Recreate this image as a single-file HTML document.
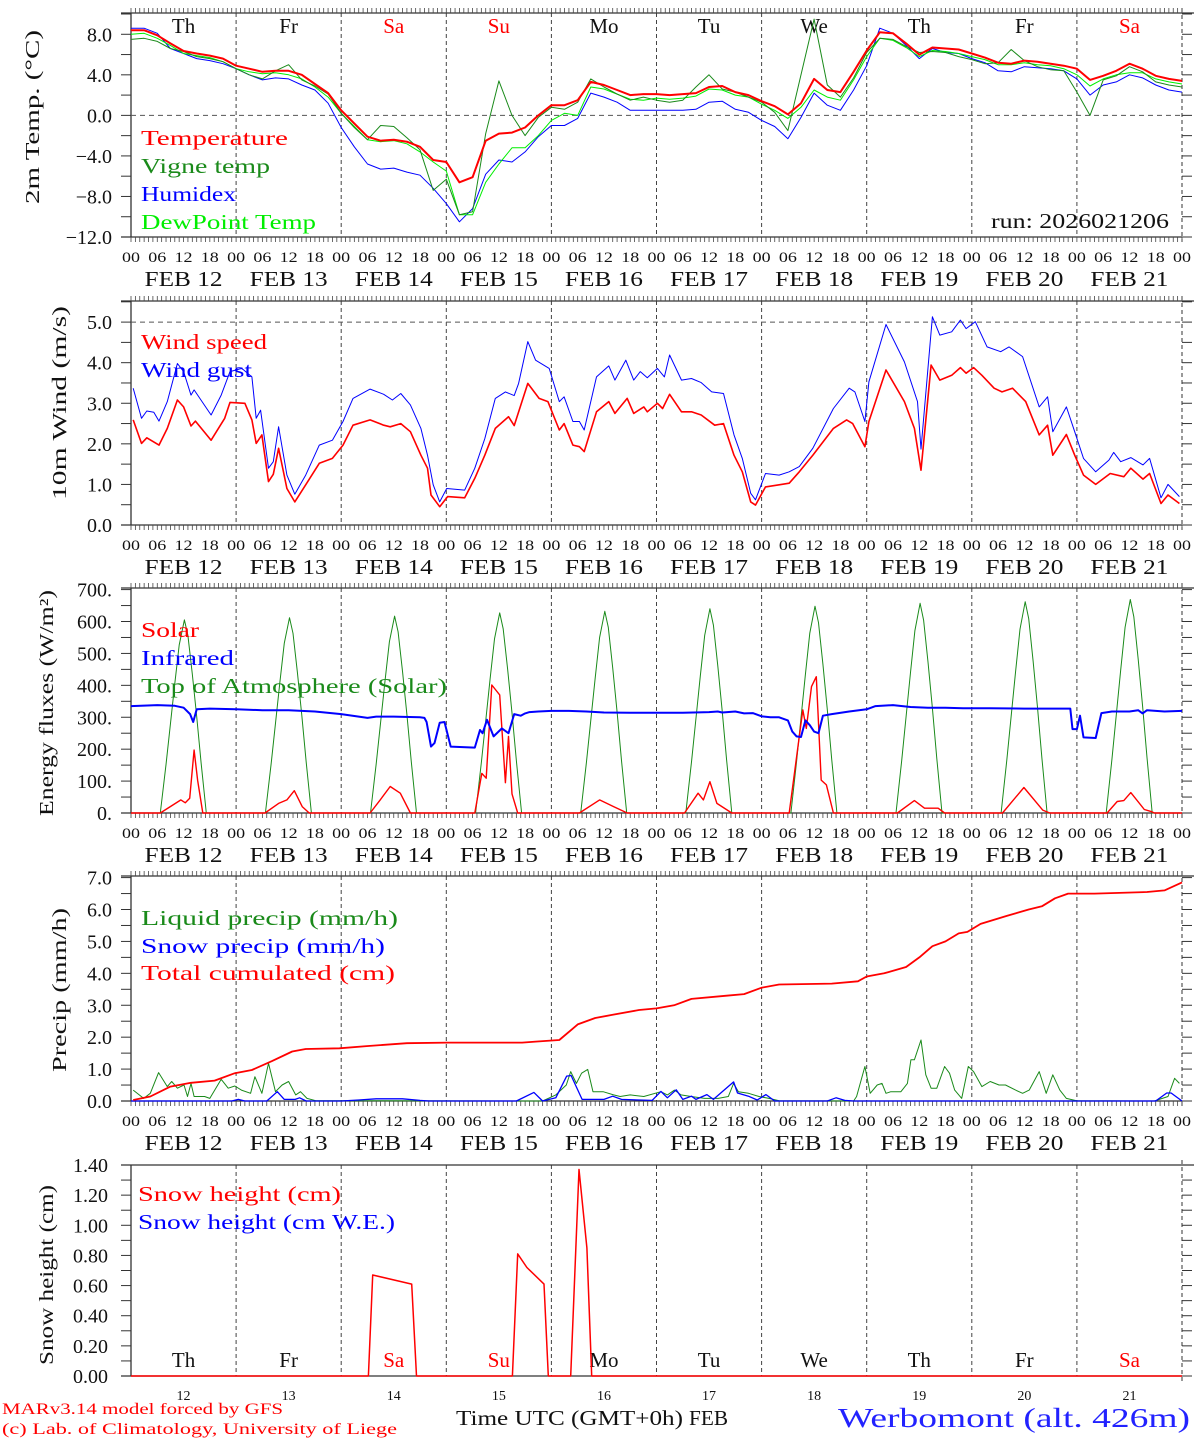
<!DOCTYPE html>
<html><head><meta charset="utf-8"><title>MAR forecast Werbomont</title>
<style>
html,body{margin:0;padding:0;background:#fff;}
svg{display:block;font-family:"Liberation Serif","DejaVu Serif",serif;}
</style></head>
<body>
<svg id="chart" width="1194" height="1440" viewBox="0 0 1194 1440" xmlns="http://www.w3.org/2000/svg"></svg>
<script>
// ---------- DATA ----------
const tempHours3 = [0,3,6,9,12,15,18,21,24,27,30,33,36,39,42,45,48,51,54,57,60,63,66,69,72,75,78,81,84,87,90,93,96,99,102,105,108,111,114,117,120,123,126,129,132,135,138,141,144,147,150,153,156,159,162,165,168,171,174,177,180,183,186,189,192,195,198,201,204,207,210,213,216,219,222,225,228,231,234,237,240];
const temperature = [8.4,8.4,7.9,7.1,6.35,6.1,5.9,5.6, 4.9,4.6,4.3,4.4,4.4,4.0,3.1,2.2, 0.5,-0.8,-2.1,-2.5,-2.4,-2.6,-3.1,-4.4, -4.6,-6.6,-6.1,-2.5,-1.8,-1.7,-1.2,0.0, 1.0,1.0,1.5,3.3,3.0,2.5,2.0,2.1, 2.1,2.0,2.1,2.2,2.8,2.9,2.3,2.0, 1.4,0.9,0.1,1.2,3.6,2.5,2.3,4.3, 6.4,8.2,8.1,7.1,6.0,6.7,6.6,6.5, 6.1,5.7,5.2,5.1,5.4,5.3,5.1,4.9, 4.6,3.5,3.9,4.4,5.1,4.6,3.9,3.6, 3.4];
const vigneTemp = [7.5,7.6,7.3,6.6,6.3,5.8,5.6,5.3, 4.6,4.0,3.6,4.4,5.0,3.5,2.9,2.1, 0.2,-1.2,-2.4,-1.0,-1.1,-2.2,-3.4,-7.4, -6.3,-9.8,-9.5,-1.8,3.4,0.0,-2.0,-0.2, 0.8,0.6,1.3,3.6,2.8,2.1,1.5,1.8, 1.5,1.3,1.5,2.8,4.0,2.6,2.3,1.8, 1.3,0.3,-1.5,4.0,9.5,3.0,1.8,3.7, 6.2,7.6,7.5,6.8,6.2,6.3,6.2,5.8, 5.5,5.1,5.2,6.5,5.4,4.8,4.5,4.4, 2.3,0.0,3.5,3.9,4.8,4.3,3.3,3.0, 2.8];
const humidex = [8.6,8.6,8.1,6.6,6.1,5.6,5.4,5.1, 4.6,4.0,3.5,3.7,3.6,3.0,2.5,1.2, -1.2,-3.1,-4.8,-5.3,-5.2,-5.6,-5.9,-7.2, -8.7,-10.5,-9.2,-5.8,-4.4,-4.6,-3.6,-2.1, -1.0,-1.0,-0.3,2.2,1.8,1.3,0.5,0.5, 0.5,0.5,0.5,0.6,1.3,1.4,0.6,0.3, -0.5,-1.1,-2.3,-0.2,2.2,1.0,0.5,2.5, 4.9,8.6,8.1,6.9,5.6,6.6,6.2,6.1, 5.6,5.2,4.4,4.3,4.8,4.7,4.6,4.4, 3.6,2.0,3.0,3.3,4.0,3.7,3.0,2.5, 2.3];
const dewPoint = [8.0,8.1,7.6,6.9,6.1,5.9,5.7,5.3, 4.6,4.3,4.1,4.2,4.0,3.6,2.8,1.8, 0.2,-1.1,-2.4,-2.6,-2.5,-2.8,-3.6,-4.6, -5.5,-9.8,-9.8,-6.6,-4.8,-3.2,-3.2,-2.0, -0.5,0.2,0.0,2.8,2.6,2.1,1.6,1.5, 1.7,1.6,1.7,1.9,2.6,2.5,2.0,1.8, 1.1,0.5,-0.3,0.8,2.5,1.8,1.5,3.5, 5.8,7.6,7.4,6.7,5.8,6.4,6.3,6.1, 5.8,5.5,5.0,5.0,5.2,5.0,4.9,4.6, 4.0,2.9,3.6,4.0,4.2,4.2,3.6,3.3, 3.1];

const windHours = [0.5,2.4,3.6,6.4,8.3,10.6,12,13.7,14.7,18.3,21.4,22.6,26,27.6,28.6,29.9,31.4,32.5,33.7,35.6,37.4,39.9,43,46,48.4,50.7,54.6,57.7,59.2,61.6,63.8,66.2,67.7,68.5,70.5,72.3,76.2,78.5,80.8,83.2,86.2,87.5,90.6,93.2,95.2,97.8,98.9,100.9,102.4,103.5,106.3,109.1,110.5,113.3,114.8,117.1,117.9,120.2,121.4,123,125.7,128,130.2,133.3,135.3,137.7,139.6,141.5,142.6,144.9,148,150.3,152.6,155.7,160.4,163.4,164.8,167.6,168.5,172.4,176.6,178.9,180.4,182.7,184.7,187.4,189.4,190.7,192.4,194.3,197.1,198.9,201.3,204.3,207.4,209.3,210.5,213.6,215.5,217.5,220.3,223.6,226.7,228.3,231.1,232.6,235.2,236.8,239.4];
const windSpeed = [2.59,2.01,2.15,1.97,2.38,3.08,2.91,2.44,2.56,2.09,2.63,3.02,3.00,2.59,2.01,2.22,1.07,1.25,1.89,0.90,0.57,0.99,1.52,1.64,1.97,2.46,2.59,2.46,2.42,2.50,2.30,1.72,1.40,0.74,0.45,0.70,0.67,1.15,1.72,2.38,2.67,2.45,3.49,3.12,3.04,2.34,2.50,1.97,1.93,1.81,2.79,3.04,2.75,3.12,2.75,2.91,2.79,3.00,2.87,3.22,2.79,2.79,2.71,2.46,2.50,1.72,1.31,0.57,0.49,0.94,0.99,1.03,1.31,1.72,2.38,2.59,2.50,1.93,2.55,3.82,3.04,2.38,1.35,3.94,3.57,3.69,3.88,3.74,3.88,3.69,3.37,3.28,3.37,3.04,2.22,2.46,1.72,2.23,1.72,1.23,1.00,1.27,1.19,1.40,1.13,1.27,0.53,0.74,0.53];
const gustHours = [0.5,2.4,3.6,5.2,6.4,8.3,10.6,12,13.7,14.4,18.3,20.6,22.6,25.3,27.6,28.6,29.6,31.4,32.5,33.7,35.6,37.4,39.9,43,46,48.4,50.7,54.6,57.7,59.7,61.6,63.8,66.2,67.7,69,70.5,72.1,76.2,78.5,80.8,83.2,85.5,87.5,88.5,90.6,92.4,95.5,97.8,98.9,100.9,102.4,103.5,106.3,109.1,110.5,113,114.8,116.3,117.9,120.2,121.8,123,125.7,128,130.2,132.6,135.3,137.7,139.6,141.5,142.6,144.9,148,150.3,152.6,155.7,160.4,164,165.3,167.6,168.5,172.4,176.6,179.6,180.4,183,184.7,187.4,189.4,190.7,192.8,195.5,198.6,200.5,203.6,207.4,209.3,210.5,213.6,215.5,217.5,220.3,223.3,224.4,226,228.3,231.1,232.6,235.2,236.8,239.4];
const windGust = [3.37,2.63,2.81,2.78,2.56,3.04,3.98,3.78,3.20,3.33,2.71,3.20,3.78,3.86,3.65,2.63,2.83,1.40,1.56,2.42,1.23,0.76,1.23,1.97,2.09,2.55,3.12,3.35,3.22,3.08,3.24,2.96,2.38,1.72,0.99,0.57,0.90,0.86,1.40,2.13,3.12,3.28,3.19,3.49,4.52,4.06,3.86,3.04,3.16,2.55,2.55,2.34,3.65,3.92,3.57,4.06,3.57,3.78,3.63,3.86,3.65,4.19,3.57,3.61,3.51,3.28,3.24,2.22,1.64,0.78,0.62,1.27,1.23,1.31,1.44,1.89,2.87,3.37,3.28,2.55,3.53,4.94,4.02,3.04,1.87,5.13,4.68,4.76,5.05,4.84,5.01,4.39,4.27,4.39,4.15,2.91,3.16,2.30,2.91,2.30,1.64,1.31,1.60,1.79,1.56,1.66,1.48,1.64,0.67,1.00,0.70];

const solarHours = [0,6.7,11.4,12.4,13.4,14.4,15.2,16.4,30.6,33.7,35.6,37.3,39.1,40.7,54.6,56.9,59.2,61.5,63.8,78.5,80.1,81.1,82.4,84.2,85.5,86.2,87,88.3,102.4,107,110.2,113.3,126.4,129.5,130.7,132.2,133.8,137.2,150.3,153.4,154.2,155.4,156.5,157.6,158.8,160.4,175,178.9,181.2,184.3,185.8,199,203.9,208.2,209.8,222.9,225.2,226.7,228.3,231.4,232.9,233.7,240];
const solar = [0,0,41,32,46,197,103,0,0,30,41,70,20,0,0,41,83,62,0,0,124,109,401,370,95,240,60,0,0,41,20,0,0,62,41,98,30,0,0,323,265,396,427,103,88,0,0,39,15,15,0,0,80,9,0,0,36,39,64,11,5,0,0];
const irHours = [0,6,10,12,13.5,14.2,15,18,24,30,36,42,48,54,56,60,66,67,67.5,68.5,69.3,70.5,71.6,73,78.5,79.7,80.3,81.3,82.8,84.7,86.2,87.5,89,90,91,93,96,100,104,108,114,120,126,132,134,135,138,140,142,144,146,148,150,151,152,153,154,155,156,157,158,160,164,168,170,174,178,182,186,190,196,204,210,214.5,215,216,216.7,217.5,220.3,221.6,224,228,230,231,232,236,240];
const infrared = [335,338,336,330,310,285,325,327,325,322,322,318,310,298,302,302,300,298,285,208,219,283,285,208,205,260,250,292,240,265,250,310,305,312,316,318,320,320,318,315,314,314,314,316,318,315,318,312,313,303,300,300,290,255,240,238,290,275,255,250,305,310,318,325,335,338,332,330,330,328,328,327,327,327,263,263,305,237,235,313,318,318,322,312,322,318,320];
const toaPeaks = [605,612,617,627,632,640,648,657,662,669];
const toaHourOfDay = [6.7,8,9,10,11,12.2,13,14,15,16,17.2];
const toaFraction = [0,0.25,0.46,0.67,0.87,1,0.92,0.72,0.5,0.26,0];

const liquidHours = [0.5,2.9,4.4,6.3,8.3,9.3,10.6,12.1,12.9,13.7,14.4,16.8,18,20.6,22.2,23.7,25.2,27.3,28.3,29.9,31.4,33,34.5,36,37.6,38.7,40.2,42.2,94,97,99.4,100.4,101.7,102.9,104.3,105.5,107.8,110.2,111.7,114,117.1,121,122.5,124.1,125.6,127.9,131,134.1,136.4,137.6,138.7,141,143.4,145.7,148,165,165.7,167.6,168.8,170.4,171.5,172.4,173.5,175.8,177.3,178.1,178.9,180.4,181.5,182.7,184,185.8,186.9,188.1,189.7,191.2,192.4,194.3,196.2,198.2,199.7,202,203.6,205.1,207.4,209,210.5,212.1,213.6,215.9,233.7,236.8,238.3,239.4];
const liquidPrecip = [0.34,0.08,0.24,0.89,0.45,0.61,0.40,0.50,0.14,0.55,0.14,0.14,0.08,0.68,0.40,0.47,0.34,0.24,0.76,0.24,1.18,0.29,0.50,0.61,0.19,0.29,0.08,0.01,0,0.19,0.50,0.92,0.55,0.87,0.99,0.29,0.29,0.19,0.14,0.19,0.14,0.29,0.19,0.34,0.19,0.14,0.08,0.08,0.14,0.55,0.29,0.24,0.14,0.08,0.01,0,0.14,1.08,0.24,0.50,0.55,0.24,0.29,0.29,0.55,1.29,1.29,1.91,0.82,0.40,0.40,1.08,0.87,0.34,0.08,1.08,0.92,0.45,0.61,0.50,0.50,0.34,0.24,0.34,0.92,0.24,0.82,0.34,0.08,0.01,0,0.14,0.71,0.55];
const snowHours = [0,23,24.5,26,31,33.4,35,37.5,38.5,40,48,52,56,62,66,68,88,92,94,97,99.5,100.5,103,108,110,112,119,121,122.5,124.5,126,128,129,131.5,133,137.6,138.5,141,143,145,147,159,161,163,165,234,236.5,237.5,239.5,240];
const snowPrecip = [0,0,0.05,0,0,0.29,0.05,0.05,0.1,0,0,0.03,0.07,0.07,0.02,0,0,0.27,0,0.1,0.78,0.8,0.05,0.05,0.15,0.05,0.02,0.3,0.1,0.35,0.05,0.15,0.05,0.2,0.05,0.6,0.25,0.15,0.03,0.2,0,0,0.1,0.02,0,0,0.25,0.25,0.05,0];
const cumHours = [0.5,4.4,9,13.7,19.1,23.7,27.6,32.2,36.8,39.9,47.6,53.8,63,72.3,89.3,92.4,97.8,101,102,106,110,116,120,124,128,136,140,144,148,160,166,168,172,177,180,183,186,189,191,194,200,205,208,211,214,220,232,236,240];
const totalCumulated = [0.03,0.14,0.45,0.57,0.64,0.87,0.97,1.25,1.55,1.63,1.65,1.72,1.81,1.83,1.83,1.86,1.91,2.28,2.4,2.6,2.7,2.85,2.9,3.0,3.2,3.3,3.35,3.55,3.65,3.68,3.75,3.9,4.0,4.2,4.5,4.85,5.0,5.25,5.3,5.55,5.8,6.0,6.1,6.35,6.5,6.5,6.55,6.6,6.85];

const snowHeightHours = [0,54.2,55.2,64.1,65.2,87.1,88.3,90.4,94.3,95.3,100.4,102.3,104.1,105.2,240];
const snowHeight = [0,0,0.67,0.61,0,0,0.81,0.72,0.61,0,0,1.37,0.85,0,0];

const dayNames = ["Th","Fr","Sa","Su","Mo","Tu","We","Th","Fr","Sa"];
const dayNums = ["12","13","14","15","16","17","18","19","20","21"];
const hourLabels = ["00","06","12","18"];

// ---------- DRAWING ----------
const NS = "http://www.w3.org/2000/svg";
const svg = document.getElementById("chart");
const X0 = 131, X1 = 1182, HOURS = 240;
function X(h){ return X0 + h*(X1-X0)/HOURS; }
function mk(tag, attrs, name, parent){
  const el = document.createElementNS(NS, tag);
  for (const k in attrs) el.setAttribute(k, attrs[k]);
  
  
  (parent||svg).appendChild(el);
  return el;
}
function txt(s, x, y, size, color, name, anchor, len, parent){
  const a = {x:x, y:y, 'font-size':size, fill:color, 'text-anchor':anchor||'start'};
  if (len){ a.textLength = len; a.lengthAdjust = 'spacingAndGlyphs'; }
  const t = mk('text', a, name, parent);
  t.textContent = s;
  return t;
}
function line(x1,y1,x2,y2,color,w,name,dash,parent){
  const a = {x1:x1,y1:y1,x2:x2,y2:y2,stroke:color,'stroke-width':w||1};
  if (dash) a['stroke-dasharray'] = dash;
  return mk('line', a, name, parent);
}

const panels = [
  {id:'temp', top:13, bot:237, vmin:-12, vmax:10.1, major:4, minor:2, fmt:v=>(v<0?'\u2212':'')+Math.abs(v).toFixed(1), hourTicks:true},
  {id:'wind', top:301, bot:525, vmin:0, vmax:5.52, major:1, minor:0.5, fmt:v=>v.toFixed(1), hourTicks:true},
  {id:'energy', top:588, bot:813, vmin:0, vmax:705, major:100, minor:50, fmt:v=>v.toFixed(0)+'.', hourTicks:true},
  {id:'precip', top:876, bot:1101, vmin:0, vmax:7.05, major:1, minor:0.5, fmt:v=>v.toFixed(1), hourTicks:true},
  {id:'snow', top:1165, bot:1376, vmin:0, vmax:1.4, major:0.2, minor:0.1, fmt:v=>v.toFixed(2), hourTicks:false}
];
function Yf(p){ return v => p.bot - (v - p.vmin)*(p.bot-p.top)/(p.vmax-p.vmin); }

panels.forEach((p, pi) => {
  const g = mk('g', {}, p.id+'-panel');
  const Y = Yf(p);
  for (let d=1; d<10; d++) line(X(d*24), p.top, X(d*24), p.bot, '#444', 1, 'day-separator', '4,3', g);
  line(X0-10, p.top, 1194, p.top, '#333', 1.3, 'frame-top', null, g);
  line(X0-10, p.bot, X1, p.bot, '#333', 1.3, 'frame-bottom', null, g);
  line(X0, p.top, X0, p.bot, '#333', 1.3, 'y-axis-line', null, g);
  line(X1, p.top-5, X1, p.bot+5, '#333', 1, 'right-axis-line', '4,3', g);
  const nMinor = Math.round((p.vmax - p.vmin)/p.minor + 1e-6);
  for (let i=0; i<=nMinor; i++){
    const v = Math.round((p.vmin + i*p.minor)*1e6)/1e6;
    if (v > p.vmax + 1e-6) break;
    const y = Y(v);
    line(X0-10, y, X0, y, '#333', 1, 'y-tick', null, g);
    line(X1, y, X1+10, y, '#333', 1, 'y-tick-right', null, g);
    const isMajor = Math.abs(v/p.major - Math.round(v/p.major)) < 1e-6;
    if (isMajor) txt(p.fmt(v), pi===4?108:112, y+7, 20, '#111', 'y-tick-label', 'end', null, g);
  }
  if (p.hourTicks){
    for (let h=0; h<=HOURS; h++){
      line(X(h), p.top-5, X(h), p.top, '#444', 0.8, 'x-hour-tick-top', null, g);
      line(X(h), p.bot, X(h), p.bot+5, '#444', 0.8, 'x-hour-tick-bottom', null, g);
    }
    for (let h=0; h<=HOURS; h+=6){
      txt(hourLabels[(h/6)%4], X(h), p.bot+25, 15, '#111', 'x-hour-label', 'middle', 18, g);
    }
    for (let d=0; d<10; d++) txt('FEB '+dayNums[d], X(d*24+12), p.bot+49, 21, '#111', 'x-date-label', 'middle', 78, g);
  }
});

function path(hours, vals, Y, color, w, name){
  let d = '';
  for (let i=0; i<vals.length; i++) d += (i?'L':'M') + X(hours[i]).toFixed(1) + ',' + Y(vals[i]).toFixed(1);
  return mk('path', {d:d, fill:'none', stroke:color, 'stroke-width':w, 'stroke-linejoin':'round'}, name);
}

(function(){
  const p = panels[0], Y = Yf(p);
  line(X0, Y(0), X1, Y(0), '#555', 1, 'zero-line', '5,4');
  dayNames.forEach((n,i)=>txt(n, X(i*24+12), 33, 21, (n==='Sa'||n==='Su')?'#f00':'#111', 'weekday-label', 'middle'));
  path(tempHours3, humidex, Y, '#0000ff', 1, 'humidex-line');
  path(tempHours3, dewPoint, Y, '#00ee00', 1, 'dewpoint-line');
  path(tempHours3, vigneTemp, Y, '#1a8a1a', 1, 'vigne-temp-line');
  path(tempHours3, temperature, Y, '#ff0000', 2, 'temperature-line');
  txt('Temperature', 141, 145, 21, '#ff0000', 'legend-temperature', 'start', 147);
  txt('Vigne temp', 141, 173, 21, '#1a8a1a', 'legend-vigne-temp', 'start', 129);
  txt('Humidex', 141, 201, 21, '#0000ff', 'legend-humidex', 'start', 95);
  txt('DewPoint Temp', 141, 229, 21, '#00ee00', 'legend-dewpoint', 'start', 175);
  txt('run: 2026021206', 1169, 228, 21, '#111', 'run-label', 'end', 178);
  const t = txt('2m Temp. (\u00B0C)', 0, 0, 20, '#111', 'y-axis-title', 'middle', 174);
  t.setAttribute('transform','translate(39,117) rotate(-90)');
})();

(function(){
  const p = panels[1], Y = Yf(p);
  line(X0, Y(5), X1, Y(5), '#555', 1, 'five-line', '5,4');
  path(gustHours, windGust, Y, '#0000ff', 1, 'wind-gust-line');
  path(windHours, windSpeed, Y, '#ff0000', 1.6, 'wind-speed-line');
  txt('Wind speed', 141, 349, 21, '#ff0000', 'legend-wind-speed', 'start', 126);
  txt('Wind gust', 141, 377, 21, '#0000ff', 'legend-wind-gust', 'start', 111);
  const t = txt('10m Wind (m/s)', 0, 0, 20, '#111', 'y-axis-title', 'middle', 194);
  t.setAttribute('transform','translate(66,403) rotate(-90)');
})();

(function(){
  const p = panels[2], Y = Yf(p);
  const th = [], tv = [];
  th.push(0); tv.push(0);
  for (let d=0; d<toaPeaks.length; d++){
    for (let k=0; k<toaHourOfDay.length; k++){ th.push(d*24+toaHourOfDay[k]); tv.push(toaPeaks[d]*toaFraction[k]); }
  }
  th.push(240); tv.push(0);
  path(th, tv, Y, '#1a8a1a', 1, 'toa-solar-line');
  path(solarHours, solar, Y, '#ff0000', 1.4, 'solar-line');
  path(irHours, infrared, Y, '#0000ff', 2, 'infrared-line');
  txt('Solar', 141, 637, 21, '#ff0000', 'legend-solar', 'start', 58);
  txt('Infrared', 141, 665, 21, '#0000ff', 'legend-infrared', 'start', 93);
  txt('Top of Atmosphere (Solar)', 141, 693, 21, '#1a8a1a', 'legend-toa', 'start', 306);
  const t = txt('Energy fluxes (W/m\u00B2)', 0, 0, 20, '#111', 'y-axis-title', 'middle', 226);
  t.setAttribute('transform','translate(53,703) rotate(-90)');
})();

(function(){
  const p = panels[3], Y = Yf(p);
  path(liquidHours, liquidPrecip, Y, '#1a8a1a', 1, 'liquid-precip-line');
  path(snowHours, snowPrecip, Y, '#0000ff', 1.3, 'snow-precip-line');
  path(cumHours, totalCumulated, Y, '#ff0000', 1.8, 'total-cumulated-line');
  txt('Liquid precip (mm/h)', 141, 925, 21, '#1a8a1a', 'legend-liquid', 'start', 257);
  txt('Snow precip (mm/h)', 141, 953, 21, '#0000ff', 'legend-snow-precip', 'start', 244);
  txt('Total cumulated (cm)', 141, 980, 21, '#ff0000', 'legend-cumulated', 'start', 254);
  const t = txt('Precip (mm/h)', 0, 0, 20, '#111', 'y-axis-title', 'middle', 164);
  t.setAttribute('transform','translate(66,990) rotate(-90)');
})();

(function(){
  const p = panels[4], Y = Yf(p);
  dayNames.forEach((n,i)=>txt(n, X(i*24+12), 1367, 21, (n==='Sa'||n==='Su')?'#f00':'#111', 'weekday-label', 'middle'));
  path(snowHeightHours, snowHeight, Y, '#ff0000', 1.5, 'snow-height-line');
  txt('Snow height (cm)', 138, 1201, 21, '#ff0000', 'legend-snow-height', 'start', 203);
  txt('Snow height (cm W.E.)', 138, 1229, 21, '#0000ff', 'legend-snow-we', 'start', 257);
  const t = txt('Snow height (cm)', 0, 0, 20, '#111', 'y-axis-title', 'middle', 180);
  t.setAttribute('transform','translate(53,1275) rotate(-90)');
  dayNums.forEach((n,i)=>txt(n, X(i*24+12), 1400, 14, '#111', 'x-day-number', 'middle'));
})();

txt('Time UTC (GMT+0h)', 456, 1425, 21, '#111', 'x-axis-title', 'start', 227);
txt('FEB', 689, 1425, 21, '#111', 'x-axis-month', 'start', 39);
txt('Werbomont (alt. 426m)', 838, 1427, 27, '#2222ff', 'station-title', 'start', 352);
txt('MARv3.14 model forced by GFS', 2, 1414, 16, '#ff0000', 'credit-model', 'start', 281);
txt('(c) Lab. of Climatology, University of Liege', 2, 1434, 16, '#ff0000', 'credit-lab', 'start', 395);
</script>
</body></html>
